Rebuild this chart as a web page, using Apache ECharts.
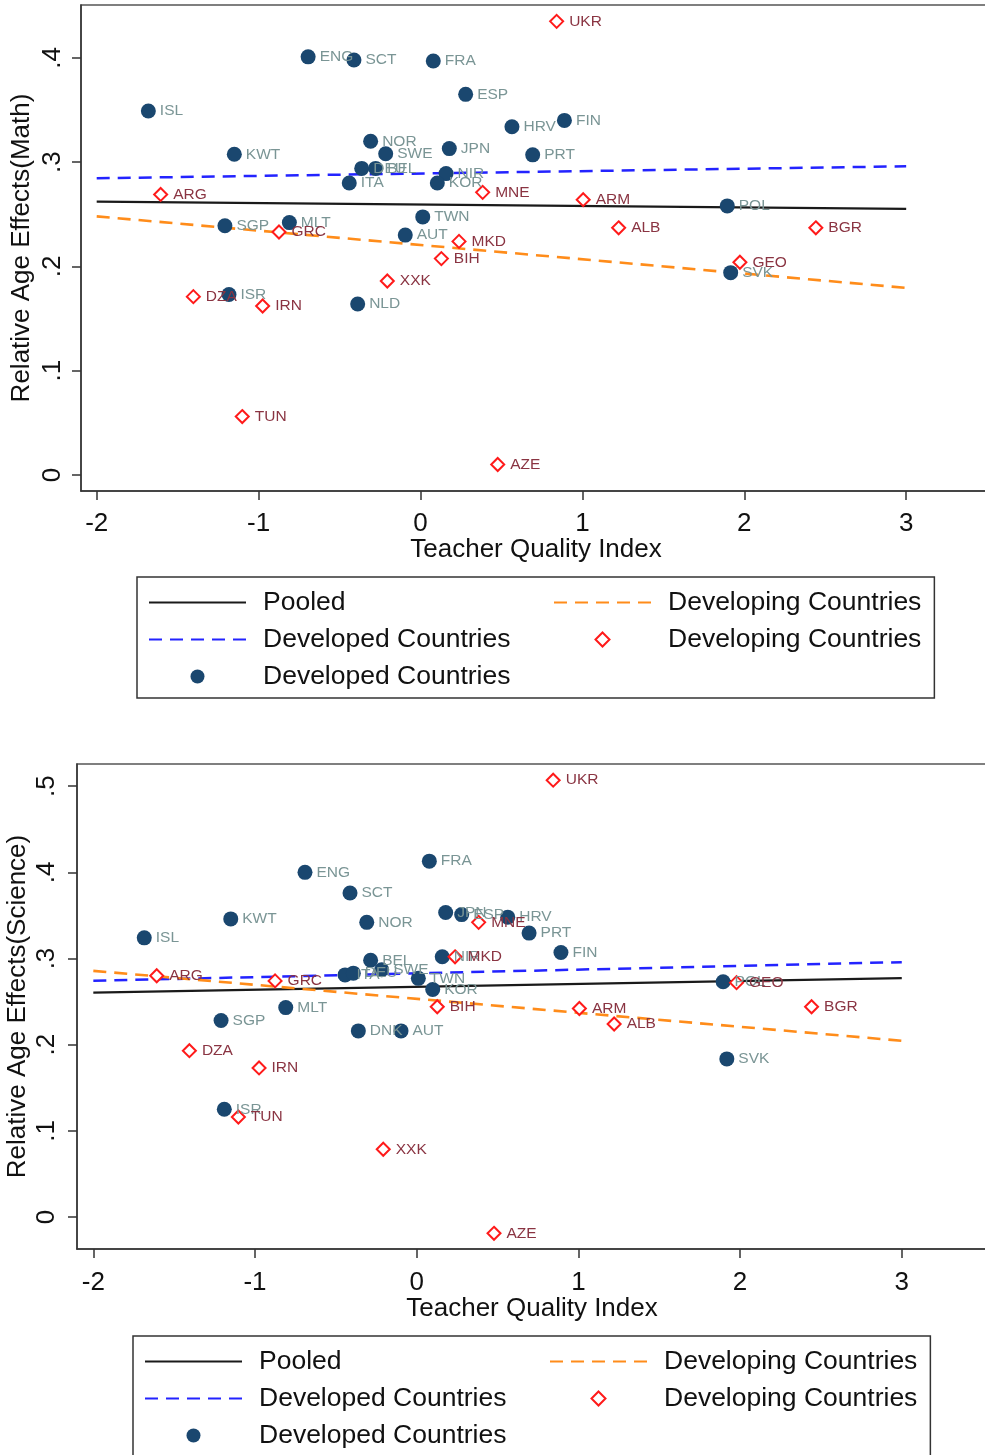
<!DOCTYPE html>
<html><head><meta charset="utf-8">
<script src="https://cdn.jsdelivr.net/npm/echarts@6/dist/echarts.min.js"></script>
<style>html,body{margin:0;padding:0;background:#fff}#c{width:985px;height:1455px}</style>
</head><body><div id="c"></div>
<script>
// ---------- data ----------
const xTicks = [-2, -1, 0, 1, 2, 3];
const yTicksMath = [0, 0.1, 0.2, 0.3, 0.4];
const yTicksSci = [0, 0.1, 0.2, 0.3, 0.4, 0.5];
const xTitle = 'Teacher Quality Index';
const yTitleMath = 'Relative Age Effects(Math)';
const yTitleSci = 'Relative Age Effects(Science)';

const fitX = [-2, 3];
const mathPooled = [0.2621, 0.2551];
const mathDevelopedFit = [0.2845, 0.2960];
const mathDevelopingFit = [0.2480, 0.1794];
const sciPooled = [0.2605, 0.2772];
const sciDevelopedFit = [0.2741, 0.2958];
const sciDevelopingFit = [0.2857, 0.2045];

const mathDevCodes = ['ENG','SCT','FRA','ESP','ISL','HRV','FIN','NOR','JPN','SWE','KWT','PRT','DEU','BEL','ITA','NIR','KOR','POL','SGP','MLT','TWN','AUT','SVK','ISR','NLD'];
const mathDevX = [-0.694,-0.411,0.079,0.279,-1.681,0.565,0.889,-0.308,0.178,-0.215,-1.150,0.693,-0.363,-0.277,-0.440,0.158,0.104,1.895,-1.208,-0.810,0.014,-0.094,1.916,-1.183,-0.388];
const mathDevY = [0.401,0.398,0.397,0.365,0.349,0.334,0.340,0.320,0.313,0.308,0.3075,0.307,0.294,0.294,0.280,0.289,0.280,0.258,0.239,0.242,0.2475,0.230,0.194,0.173,0.164];

const mathIngCodes = ['UKR','MNE','ARG','ARM','ALB','BGR','GRC','MKD','BIH','GEO','XXK','DZA','IRN','TUN','AZE'];
const mathIngX = [0.841,0.384,-1.605,1.005,1.224,2.442,-0.874,0.238,0.129,1.973,-0.205,-1.403,-0.975,-1.101,0.477];
const mathIngY = [0.435,0.271,0.269,0.264,0.237,0.237,0.233,0.224,0.2075,0.204,0.186,0.171,0.162,0.056,0.010];

const sciDevCodes = ['ENG','FRA','SCT','KWT','ISL','NOR','JPN','ESP','HRV','PRT','FIN','BEL','ITA','DEU','SWE','TWN','NIR','KOR','POL','MLT','SGP','DNK','AUT','SVK','ISR'];
const sciDevX = [-0.691,0.078,-0.4125,-1.150,-1.685,-0.309,0.179,0.278,0.563,0.695,0.892,-0.285,-0.443,-0.392,-0.2165,0.010,0.158,0.099,1.895,-0.810,-1.210,-0.361,-0.097,1.918,-1.190];
const sciDevY = [0.400,0.413,0.376,0.346,0.324,0.342,0.3535,0.351,0.348,0.3295,0.307,0.298,0.281,0.283,0.287,0.277,0.302,0.264,0.273,0.243,0.228,0.216,0.216,0.1835,0.125];

const sciIngCodes = ['UKR','MNE','MKD','ARG','GRC','GEO','BIH','BGR','ARM','ALB','DZA','IRN','TUN','XXK','AZE'];
const sciIngX = [0.844,0.383,0.237,-1.608,-0.876,1.978,0.127,2.442,1.006,1.221,-1.406,-0.975,-1.103,-0.207,0.478];
const sciIngY = [0.507,0.342,0.302,0.280,0.274,0.272,0.244,0.244,0.242,0.224,0.193,0.173,0.116,0.0786,-0.019];

const legendKeys = ['pooled','ingFit','devFit','ingPts','devPts'];
const legendLabels = ['Pooled','Developing Countries','Developed Countries','Developing Countries','Developed Countries'];

// ---------- chart ----------
const FONT = 'Liberation Sans, Arial, sans-serif';
const C = {
  pooled: '#1a1a1a', devLine: '#2323ff', ingLine: '#ff8c1a',
  devPt: '#1a476f', ingPt: '#ff1a1a', devLab: '#7a9595', ingLab: '#8a3442', axis: '#333'
};
const pts = (codes, xs, ys) => codes.map((c, i) => ({ name: c, value: [xs[i], ys[i]] }));
const fit = arr => fitX.map((x, i) => [x, arr[i]]);
const yFmt = v => (v === 0 ? '0' : String(v).replace(/^0/, ''));

const grids = [
  { left: 81, top: 5, width: 910, height: 486, xmin: -2.097, xmax: 3.524, ymin: -0.0154, ymax: 0.4507, yt: yTicksMath, yn: yTitleMath, lblM: 15, nG: 46, xlM: 20, xnG: 46 },
  { left: 77, top: 764, width: 910, height: 485, xmin: -2.101, xmax: 3.527, ymin: -0.0372, ymax: 0.5258, yt: yTicksSci, yn: yTitleSci, lblM: 17, nG: 46, xlM: 21, xnG: 47 }
];

const hiddenSym = { color: 'rgba(0,0,0,0)', borderColor: 'rgba(0,0,0,0)', borderWidth: 0, opacity: 0 };
const legendData = legendKeys.map(k => {
  if (k === 'ingPts') return { name: k, icon: 'path://M5,0L10,5L5,10L0,5Z' };
  if (k === 'devPts') return { name: k, icon: 'circle' };
  return { name: k, itemStyle: hiddenSym };
});
// text style key per legend entry (c = first column item followed by a centred-icon item)
const legendStyleKey = { pooled: 'a', devFit: 'c', devPts: 'a', ingFit: 'b', ingPts: 'b' };

const option = {
  animation: false,
  backgroundColor: '#fff',
  textStyle: { fontFamily: FONT },
  grid: grids.map(g => ({ left: g.left, top: g.top, width: g.width, height: g.height, outerBoundsMode: 'none', containLabel: false, show: true, borderColor: '#555', borderWidth: 1.5, backgroundColor: '#fff' })),
  xAxis: grids.map((g, i) => ({
    type: 'value', gridIndex: i, min: g.xmin, max: g.xmax,
    axisLine: { show: true, onZero: false, lineStyle: { color: C.axis, width: 1.5 } },
    axisTick: { show: true, customValues: xTicks, length: 9, lineStyle: { color: C.axis, width: 1.5 } },
    axisLabel: { customValues: xTicks, margin: g.xlM, fontSize: 26, color: '#111', fontFamily: FONT },
    splitLine: { show: false },
    name: xTitle, nameLocation: 'middle', nameGap: g.xnG, nameMoveOverlap: false,
    nameTextStyle: { fontSize: 26, color: '#111', fontFamily: FONT }
  })),
  yAxis: grids.map((g, i) => ({
    type: 'value', gridIndex: i, min: g.ymin, max: g.ymax,
    axisLine: { show: true, onZero: false, lineStyle: { color: C.axis, width: 1.5 } },
    axisTick: { show: true, customValues: g.yt, length: 9, lineStyle: { color: C.axis, width: 1.5 } },
    axisLabel: { customValues: g.yt, rotate: 90, margin: g.lblM, fontSize: 26, color: '#111', fontFamily: FONT, formatter: yFmt },
    splitLine: { show: false },
    name: g.yn, nameLocation: 'middle', nameGap: g.nG, nameMoveOverlap: false,
    nameTextStyle: { fontSize: 26, color: '#111', fontFamily: FONT }
  })),
  legend: [[137, 577], [133, 1336]].map(([l, t]) => ({
    left: l, top: t, orient: 'horizontal', width: 790,
    padding: [12, 13, 8, 11], itemGap: 10, itemWidth: 97, itemHeight: 14,
    borderColor: '#333', borderWidth: 1.5, backgroundColor: '#fff', selectedMode: false,
    data: legendData,
    formatter: n => '{' + legendStyleKey[n] + '|' + legendLabels[legendKeys.indexOf(n)] + '}',
    textStyle: {
      color: '#111', fontFamily: FONT, fontSize: 26.5,
      rich: {
        a: { width: 280, padding: [0, 0, 0, 12], fontSize: 26.5, lineHeight: 27, color: '#111', fontFamily: FONT },
        c: { width: 321.5, padding: [0, 0, 0, 12], fontSize: 26.5, lineHeight: 27, color: '#111', fontFamily: FONT },
        b: { padding: [0, 0, 0, 12], fontSize: 26.5, lineHeight: 27, color: '#111', fontFamily: FONT }
      }
    }
  })),
  series: []
};

const sets = [
  { pooled: mathPooled, dev: mathDevelopedFit, ing: mathDevelopingFit, devP: pts(mathDevCodes, mathDevX, mathDevY), ingP: pts(mathIngCodes, mathIngX, mathIngY) },
  { pooled: sciPooled, dev: sciDevelopedFit, ing: sciDevelopingFit, devP: pts(sciDevCodes, sciDevX, sciDevY), ingP: pts(sciIngCodes, sciIngX, sciIngY) }
];
sets.forEach((s, gi) => {
  const base = { xAxisIndex: gi, yAxisIndex: gi, silent: true, emphasis: { disabled: true } };
  option.series.push(
    Object.assign({ name: 'pooled', type: 'line', data: fit(s.pooled), symbol: 'none', z: 2, lineStyle: { color: C.pooled, width: 2.2, type: 'solid' }, itemStyle: { color: C.pooled } }, base),
    Object.assign({ name: 'devFit', type: 'line', data: fit(s.dev), symbol: 'none', z: 2, lineStyle: { color: C.devLine, width: 2.5, type: [13, 8] }, itemStyle: { color: C.devLine } }, base),
    Object.assign({ name: 'ingFit', type: 'line', data: fit(s.ing), symbol: 'none', z: 2, lineStyle: { color: C.ingLine, width: 2.6, type: [13, 8] }, itemStyle: { color: C.ingLine } }, base),
    Object.assign({ name: 'devPts', type: 'scatter', data: s.devP, symbol: 'circle', symbolSize: 15, z: 3,
      itemStyle: { color: C.devPt, opacity: 1 },
      label: { show: true, position: 'right', distance: 4, formatter: '{b}', color: C.devLab, fontSize: 15.5, fontFamily: FONT } }, base),
    Object.assign({ name: 'ingPts', type: 'scatter', data: s.ingP, symbol: 'diamond', symbolSize: 13, z: 3,
      itemStyle: { color: '#fff', borderColor: C.ingPt, borderWidth: 2, opacity: 1 },
      label: { show: true, position: 'right', distance: 5, formatter: '{b}', color: C.ingLab, fontSize: 15.5, fontFamily: FONT } }, base)
  );
});

const chart = echarts.init(document.getElementById('c'), null, { renderer: 'canvas' });
chart.setOption(option);
</script>
</body></html>
